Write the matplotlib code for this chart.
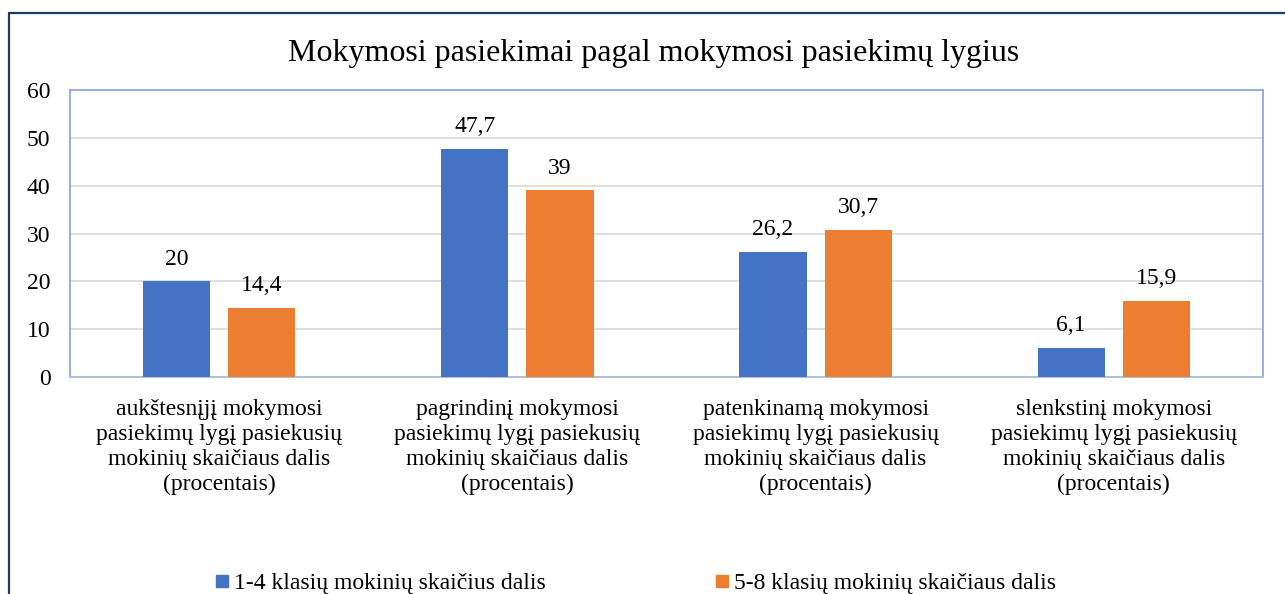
import numpy as np
import matplotlib
matplotlib.use('Agg')
import matplotlib.pyplot as plt
from matplotlib.patches import Rectangle
from matplotlib.lines import Line2D

plt.rcParams['font.family'] = ['Liberation Serif', 'DejaVu Serif']

categories = [
    'aukštesnįjį mokymosi\npasiekimų lygį pasiekusių\nmokinių skaičiaus dalis\n(procentais)',
    'pagrindinį mokymosi\npasiekimų lygį pasiekusių\nmokinių skaičiaus dalis\n(procentais)',
    'patenkinamą mokymosi\npasiekimų lygį pasiekusių\nmokinių skaičiaus dalis\n(procentais)',
    'slenkstinį mokymosi\npasiekimų lygį pasiekusių\nmokinių skaičiaus dalis\n(procentais)',
]
series_names = ['1-4 klasių mokinių skaičius dalis', '5-8 klasių mokinių skaičiaus dalis']
vals_1_4 = [20, 47.7, 26.2, 6.1]
vals_5_8 = [14.4, 39, 30.7, 15.9]
colors = ['#4472C4', '#ED7D31']

W, H = 1285, 594
fig = plt.figure(figsize=(W / 100, H / 100), dpi=100)

# outer frame
fig.patches.append(Rectangle((9 / W, -0.1), 1.2, 1 - 13 / H + 0.1, transform=fig.transFigure,
                             fill=False, edgecolor='#1F3864', linewidth=1.6))

ax = fig.add_axes([70 / W, 1 - 377 / H, (1263 - 70) / W, (377 - 90) / H])

x = np.arange(len(categories))
bw = 0.225
off = 0.143
b1 = ax.bar(x - off, vals_1_4, bw, color=colors[0], zorder=3)
b2 = ax.bar(x + off, vals_5_8, bw, color=colors[1], zorder=3)

for bars, vals in ((b1, vals_1_4), (b2, vals_5_8)):
    for r, v in zip(bars, vals):
        ax.annotate(f'{v:g}'.replace('.', ','), (r.get_x() + r.get_width() / 2, v),
                    xytext=(0, 12), textcoords='offset points', ha='center', va='baseline',
                    fontsize=17)

ax.set_xlim(-0.5, 3.5)
ax.set_ylim(0, 60)
ax.set_yticks(range(0, 61, 10))
ax.yaxis.grid(True, color='#D9D9D9', linewidth=1.2, zorder=0)
ax.set_axisbelow(True)
ax.set_xticks(x)
ax.set_xticklabels(categories, fontsize=17, linespacing=1.25)
ax.tick_params(axis='both', length=0, labelsize=17)
ax.tick_params(axis='y', pad=14)
ax.tick_params(axis='x', pad=16)
for s in ('left', 'top', 'right'):
    ax.spines[s].set_color('#8EA9DB')
    ax.spines[s].set_linewidth(1.3)
ax.spines['bottom'].set_color('#B4C0D8')
ax.spines['bottom'].set_linewidth(1.5)

fig.text(0.509, 1 - 53 / H, 'Mokymosi pasiekimai pagal mokymosi pasiekimų lygius',
         ha='center', va='center', fontsize=23)

handles = [Line2D([], [], marker='s', linestyle='none', markersize=8, color=c) for c in colors]
fig.legend(handles, series_names, loc='center', bbox_to_anchor=(636 / W, 1 - 583 / H),
           ncol=2, frameon=False, fontsize=17, handlelength=0.5, handletextpad=0.25,
           columnspacing=7.2)

fig.savefig('out.png', dpi=100)
